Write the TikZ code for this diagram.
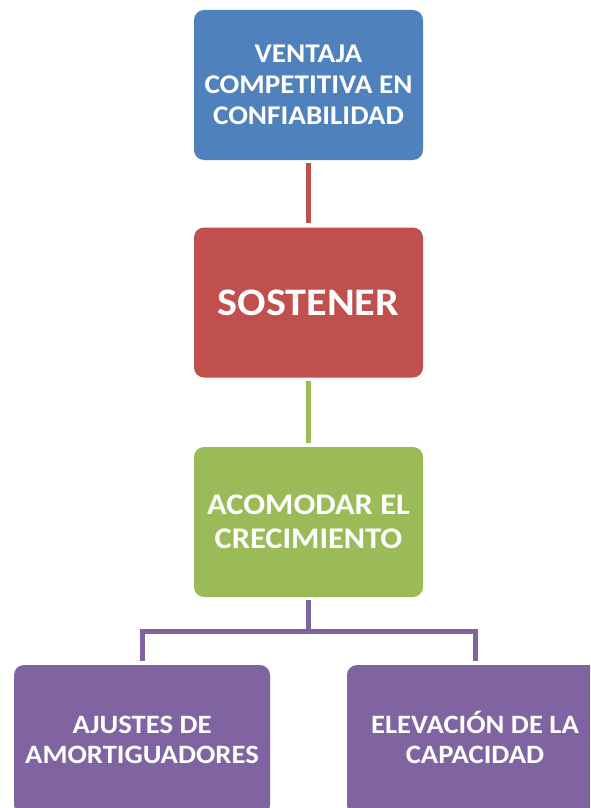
\documentclass[tikz,border=0pt]{standalone}
\usepackage{fontspec}
\setmainfont[FakeStretch=1.08]{Carlito}
\definecolor{cblue}{HTML}{4F81BD}
\definecolor{cred}{HTML}{C0504D}
\definecolor{cgreen}{HTML}{9BBB59}
\definecolor{cpurple}{HTML}{8064A2}
\tikzset{
  box/.style={rounded corners=10pt, minimum width=229pt, minimum height=150pt, align=center, text=white, font=\bfseries, inner sep=0pt},
  lowbox/.style={box, minimum width=256pt, fill=cpurple},
  link/.style={line width=5pt, shorten <=3pt, shorten >=4pt}
}
\begin{document}
\begin{tikzpicture}[x=1pt,y=-1pt]
\useasboundingbox (0,0) rectangle (590,808);
\clip (0,0) rectangle (590,808);
\node[box, fill=cblue, font=\bfseries\fontsize{27}{31}\selectfont] (top) at (308.5,85) {VENTAJA\\COMPETITIVA EN\\CONFIABILIDAD};
\node[box, fill=cred, font=\bfseries\fontsize{39}{42}\selectfont] (sus) at (308.5,302.5) {SOSTENER};
\node[box, fill=cgreen, font=\bfseries\fontsize{30}{34}\selectfont] (acc) at (308.5,522) {ACOMODAR EL\\CRECIMIENTO};
\node[lowbox, font=\bfseries\fontsize{26.5}{30}\selectfont] (left) at (142,740) {\smash{AJUSTES DE}\vphantom{E}\\AMORTIGUADORES};
\node[lowbox, font=\bfseries\fontsize{26.5}{30}\selectfont] (right) at (475,740) {\smash{ELEVACIÓN DE LA}\vphantom{E}\\CAPACIDAD};
\coordinate (bus) at (308.5,631);
\draw[link, cred] (top) -- (sus);
\draw[link, cgreen] (sus) -- (acc);
\draw[line width=5pt, cpurple, shorten <=3pt] (acc.south) -- (bus);
\draw[line width=5pt, cpurple, shorten <=4pt, shorten >=4pt] (left.north) |- (bus) -| (right.north);
\end{tikzpicture}
\end{document}
